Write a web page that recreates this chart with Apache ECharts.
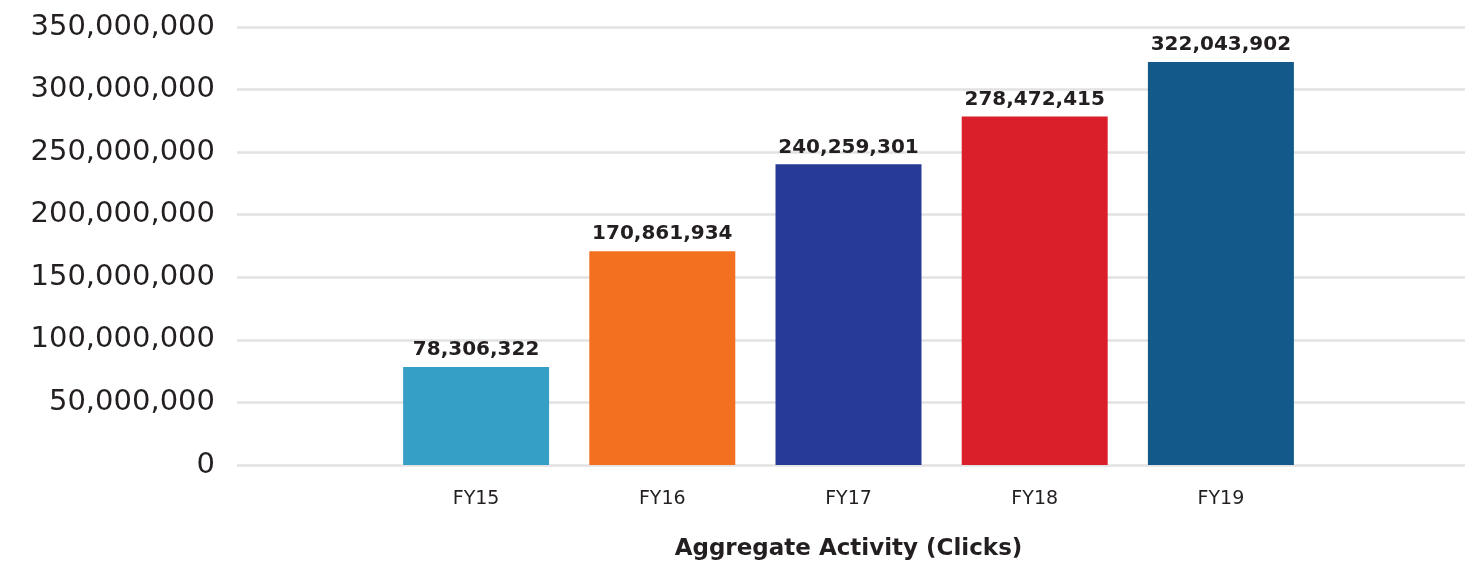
<!DOCTYPE html>
<html>
<head>
<meta charset="utf-8">
<script src="https://cdn.jsdelivr.net/npm/echarts@6/dist/echarts.min.js"></script>
<style>
html,body{margin:0;padding:0;background:#fff;}
#columnar1{width:1483px;height:571px;}
</style>
</head>
<body>
<div id="columnar1"></div>
<script>
var categories = ['FY15', 'FY16', 'FY17', 'FY18', 'FY19'];
var clicks = [78306322, 170861934, 240259301, 278472415, 322043902];
var barColors = ['#369fc6', '#f37021', '#273a96', '#da1f2b', '#13598a'];
var yTicks = [0, 350000000, 50000000]; // min, max, interval

//柱状图
(function(){

var columnar1 = echarts.init(document.getElementById("columnar1"));

function fmt(v){
    return v.toString().replace(/\B(?=(\d{3})+(?!\d))/g, ',');
}

var option = {
    animation: false,
    grid: [
        // wide grid, only for the y axis and its split lines
        {left: 237, right: 18, top: 27, bottom: 106},
        // narrower grid holding the bars
        {left: 383, right: 169, top: 27, bottom: 106}
    ],
    xAxis: [
        {
            type: 'category',
            gridIndex: 0,
            data: [''],
            show: false
        },
        {
            type: 'category',
            gridIndex: 1,
            data: categories,
            axisLine: {show: false},
            axisTick: {show: false},
            axisLabel: {
                margin: 25,
                fontFamily: 'DejaVu Sans',
                fontSize: 19,
                color: '#231f20'
            },
            name: 'Aggregate Activity (Clicks)',
            nameLocation: 'middle',
            nameGap: 73,
            nameTextStyle: {
                fontFamily: 'DejaVu Sans',
                fontWeight: 'bold',
                fontSize: 23,
                color: '#231f20'
            }
        }
    ],
    yAxis: [
        {
            type: 'value',
            gridIndex: 0,
            min: yTicks[0],
            max: yTicks[1],
            interval: yTicks[2],
            axisLine: {show: false},
            axisTick: {show: false},
            axisLabel: {
                margin: 22,
                fontFamily: 'DejaVu Sans',
                fontSize: 29,
                color: '#231f20',
                formatter: fmt
            },
            splitLine: {
                lineStyle: {color: '#e2e2e2', width: 2.5}
            }
        },
        {
            type: 'value',
            gridIndex: 1,
            min: yTicks[0],
            max: yTicks[1],
            interval: yTicks[2],
            show: false,
            splitLine: {show: false}
        }
    ],
    series: [
        {
            type: 'bar',
            xAxisIndex: 1,
            yAxisIndex: 1,
            barWidth: '78.4%',
            data: clicks.map(function(v, i){
                return {value: v, itemStyle: {color: barColors[i]}};
            }),
            label: {
                show: true,
                position: 'top',
                distance: 7,
                fontFamily: 'DejaVu Sans',
                fontWeight: 'bold',
                fontSize: 20,
                color: '#231f20',
                formatter: function(p){ return fmt(p.value); }
            }
        }
    ]
};

columnar1.setOption(option);
})();
</script>
</body>
</html>
